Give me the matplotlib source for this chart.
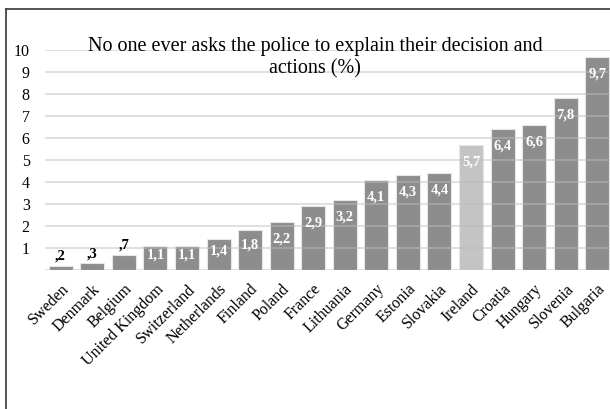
import matplotlib
matplotlib.use("Agg")
import matplotlib.pyplot as plt
from matplotlib.lines import Line2D

countries = ["Sweden", "Denmark", "Belgium", "United Kingdom", "Switzerland",
             "Netherlands", "Finland", "Poland", "France", "Lithuania",
             "Germany", "Estonia", "Slovakia", "Ireland", "Croatia",
             "Hungary", "Slovenia", "Bulgaria"]
values = [0.2, 0.3, 0.7, 1.1, 1.1, 1.4, 1.8, 2.2, 2.9, 3.2,
          4.1, 4.3, 4.4, 5.7, 6.4, 6.6, 7.8, 9.7]
highlight = "Ireland"
yticks = [1, 2, 3, 4, 5, 6, 7, 8, 9, 10]
title = "No one ever asks the police to explain their decision and\nactions (%)"

plt.rcParams['font.family'] = ['Liberation Serif', 'DejaVu Serif']

W, H = 610, 409
fig = plt.figure(figsize=(W / 100, H / 100), dpi=100)
ax = fig.add_axes([45 / W, (H - 270) / H, 568 / W, 220 / H])

base_col = '#8d8d8d'
hi_col = '#c4c4c4'
colors = [hi_col if c == highlight else base_col for c in countries]
x = list(range(len(countries)))
ax.bar(x, values, width=0.76, color=colors, edgecolor='#e6e6e6',
       linewidth=0.8, zorder=2)

ax.set_xlim(-0.5, len(countries) - 0.5)
ax.set_ylim(0, 10)
ax.set_yticks(yticks)
ax.set_yticklabels([str(t) for t in yticks], fontsize=11.5)
ax.tick_params(axis='y', length=0, pad=11)
ax.tick_params(axis='x', length=0, pad=8)
ax.set_xticks(x)
ax.set_xticklabels(countries, rotation=45, ha='right', rotation_mode='anchor',
                   fontsize=11.5)
for s in ax.spines.values():
    s.set_visible(False)

# gridlines on top of bars, semi-transparent
for t in yticks:
    ax.axhline(t, color='#bdbdbd', alpha=0.55, lw=1.2, zorder=3)
ax.axhline(0, color='#d9d9d9', lw=1.2, zorder=1)


def fmt(v):
    s = f"{v:.1f}".replace('.', ',')
    if s.startswith('0'):
        s = s[1:]
    return s


for xi, v in zip(x, values):
    if v < 1:
        ax.annotate(fmt(v), (xi, v), xytext=(0, 2), textcoords='offset points',
                    ha='center', va='bottom', fontsize=10.5, fontweight='bold',
                    color='black', zorder=4)
    else:
        yl = max(v - 0.77, v * 0.62)
        ax.text(xi, yl, fmt(v), ha='center', va='center', fontsize=10.5,
                fontweight='bold', color='white', zorder=4)

fig.text(315 / W, 1 - 57.5 / H, title, ha='center', va='center', fontsize=14.5,
         linespacing=1.25)

# outer frame (left and top edges visible)
fc = '#454545'
fig.add_artist(Line2D([5.5 / W, 5.5 / W], [0, 1 - 8.5 / H], color=fc, lw=1.3,
                      transform=fig.transFigure))
fig.add_artist(Line2D([5.5 / W, 1.0], [1 - 8.5 / H, 1 - 8.5 / H], color=fc,
                      lw=1.3, transform=fig.transFigure))

fig.savefig('out.png', dpi=100)
